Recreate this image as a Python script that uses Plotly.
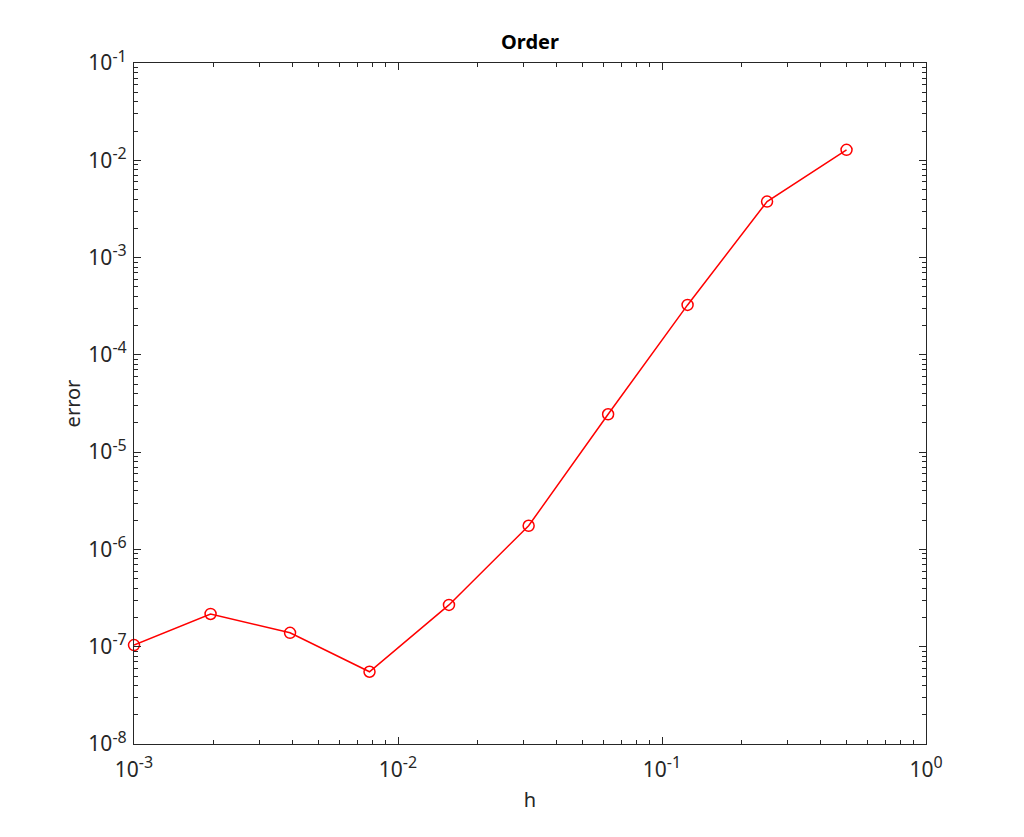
import plotly.graph_objects as go

h = [0.001, 0.00195, 0.0039, 0.0078, 0.0156, 0.03125, 0.0625, 0.125, 0.25, 0.5]
err = [1.04e-7, 2.17e-7, 1.39e-7, 5.53e-8, 2.69e-7, 1.75e-6, 2.45e-5, 3.26e-4, 3.76e-3, 1.28e-2]

x_tickvals = [1e-3, 1e-2, 1e-1, 1e0]
x_exps = ["-3", "-2", "-1", "0"]
y_tickvals = [1e-8, 1e-7, 1e-6, 1e-5, 1e-4, 1e-3, 1e-2, 1e-1]
y_exps = ["-8", "-7", "-6", "-5", "-4", "-3", "-2", "-1"]
mantissas = [2, 3, 4, 5, 6, 7, 8, 9]
x_minor = [m * d for d in x_tickvals[:-1] for m in mantissas]
y_minor = [m * d for d in y_tickvals[:-1] for m in mantissas]

def pow_label(e):
    return "10<sup><span style='font-size:16px'>%s</span></sup>" % e

x_ticktext = [pow_label(e) for e in x_exps]
y_ticktext = [pow_label(e) for e in y_exps]

font = "Noto Sans"
axc = "#262626"

fig = go.Figure()
fig.add_trace(go.Scatter(
    x=h, y=err, mode="lines+markers",
    line=dict(color="#ff0000", width=1.5),
    marker=dict(symbol="circle-open", size=11, color="#ff0000", line=dict(width=1.5)),
    cliponaxis=False,
))

def axis(minor_vals):
    return dict(
        type="log", showgrid=False, zeroline=False,
        showline=True, linecolor=axc, linewidth=1.2, mirror="ticks",
        ticks="inside", ticklen=7, tickcolor=axc, tickwidth=1,
        minor=dict(ticks="inside", ticklen=4, tickcolor=axc, tickwidth=1,
                   showgrid=False, tickmode="array", tickvals=minor_vals),
        tickfont=dict(family=font, size=21, color=axc),
    )

fig.update_layout(
    width=1016, height=829,
    paper_bgcolor="white", plot_bgcolor="white",
    margin=dict(l=126, r=98, t=55, b=93),
    showlegend=False,
    title=dict(text="<b>Order</b>", x=0.5, xanchor="center", y=0.951, yanchor="bottom",
               xref="paper", font=dict(family=font, size=20, color="black")),
    xaxis=dict(axis(x_minor), range=[-3, 0], tickmode="array", tickvals=x_tickvals, ticktext=x_ticktext,
               ticklabelstandoff=7,
               title=dict(text="h", font=dict(family=font, size=20, color=axc), standoff=10)),
    yaxis=dict(axis(y_minor), range=[-8, -1], tickmode="array", tickvals=y_tickvals, ticktext=y_ticktext,
               ticklabelstandoff=2,
               title=dict(text="error", font=dict(family=font, size=20, color=axc), standoff=2)),
)

fig.write_html("out.html")
